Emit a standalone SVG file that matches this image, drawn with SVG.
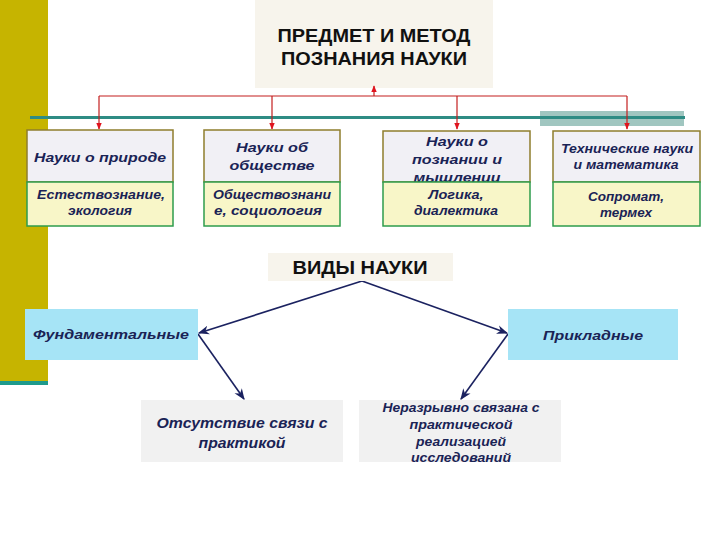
<svg xmlns="http://www.w3.org/2000/svg" width="720" height="540" viewBox="0 0 720 540">
<style>
.h{font-family:"Liberation Sans",Arial,sans-serif;font-weight:bold;fill:#111;text-anchor:middle}
.t{font-family:"Liberation Sans",Arial,sans-serif;font-weight:bold;font-style:italic;fill:#1a2355;text-anchor:middle}
.top{fill:#f1f0f5;stroke:#8f7d2c;stroke-width:1.5}
.bot{fill:#f8f6c8;stroke:#2e9c4c;stroke-width:1.5}
.cy{fill:#a6e4f6}
.gr{fill:#f1f1f1}
.red{stroke:#c41e1e;stroke-width:1.2;fill:none}
.nv{stroke:#1b2260;stroke-width:1.6;fill:none}
</style>
<defs>
<marker id="ra" viewBox="0 0 10 10" refX="9" refY="5" markerWidth="6" markerHeight="6" orient="auto"><path d="M0,1 L10,5 L0,9 z" fill="#e0141e"/></marker>
<marker id="na" viewBox="0 0 10 10" refX="9" refY="5" markerWidth="7" markerHeight="7" orient="auto"><path d="M0,1 L10,5 L0,9 L3,5 z" fill="#1b2260"/></marker>
</defs>
<rect x="0" y="0" width="720" height="540" fill="#fff"/>
<rect x="0" y="0" width="48" height="381" fill="#c6b400"/>
<rect x="0" y="381" width="48" height="4" fill="#1e9a8c"/>
<rect x="540" y="111" width="144" height="15" fill="#a0c6c0"/>
<rect x="30" y="116" width="655" height="3" fill="#2e8c84"/>

<g id="title"><rect x="255" y="0" width="238" height="88" fill="#f7f4ec"/>
<text class="h" x="374" y="42" font-size="19" textLength="193" lengthAdjust="spacingAndGlyphs">ПРЕДМЕТ И МЕТОД</text>
<text class="h" x="374" y="65" font-size="19" textLength="186" lengthAdjust="spacingAndGlyphs">ПОЗНАНИЯ НАУКИ</text></g>

<g id="connectors">
<path class="red" d="M374 96 L374 86" marker-end="url(#ra)"/>
<path class="red" d="M99 96 L627 96"/>
<path class="red" d="M99 96 L99 129" marker-end="url(#ra)"/>
<path class="red" d="M272 96 L272 129" marker-end="url(#ra)"/>
<path class="red" d="M457 96 L457 129" marker-end="url(#ra)"/>
<path class="red" d="M627 96 L627 129" marker-end="url(#ra)"/>
<path class="nv" d="M362 281 L199 333" marker-end="url(#na)"/>
<path class="nv" d="M362 281 L507 333" marker-end="url(#na)"/>
<path class="nv" d="M198 334 L244 399" marker-end="url(#na)"/>
<path class="nv" d="M508 334 L461 399" marker-end="url(#na)"/>
</g>

<g id="n1"><rect class="top" x="27" y="130" width="146" height="52"/>
<text class="t" x="100" y="162" font-size="13.5" textLength="132" lengthAdjust="spacingAndGlyphs">Науки о природе</text>
<rect class="bot" x="27" y="182" width="146" height="44"/>
<text class="t" x="101" y="199" font-size="12.5" textLength="128" lengthAdjust="spacingAndGlyphs">Естествознание,</text>
<text class="t" x="100" y="215" font-size="12.5" textLength="64" lengthAdjust="spacingAndGlyphs">экология</text></g>

<g id="n2"><rect class="top" x="204" y="130" width="136" height="52"/>
<text class="t" x="272" y="152" font-size="13.5" textLength="72" lengthAdjust="spacingAndGlyphs">Науки об</text>
<text class="t" x="272" y="170" font-size="13.5" textLength="85" lengthAdjust="spacingAndGlyphs">обществе</text>
<rect class="bot" x="204" y="182" width="136" height="44"/>
<text class="t" x="272" y="199" font-size="12.5" textLength="118" lengthAdjust="spacingAndGlyphs">Обществознани</text>
<text class="t" x="268" y="215" font-size="12.5" textLength="108" lengthAdjust="spacingAndGlyphs">е, социология</text></g>

<g id="n3"><rect class="top" x="383" y="131" width="147" height="51"/>
<text class="t" x="457" y="146" font-size="13.5" textLength="62" lengthAdjust="spacingAndGlyphs">Науки о</text>
<text class="t" x="457" y="164" font-size="13.5" textLength="90" lengthAdjust="spacingAndGlyphs">познании и</text>
<text class="t" x="457" y="182" font-size="13.5" textLength="87" lengthAdjust="spacingAndGlyphs">мышлении</text>
<rect class="bot" x="383" y="182" width="147" height="44"/>
<text class="t" x="456" y="199" font-size="12.5" textLength="55" lengthAdjust="spacingAndGlyphs">Логика,</text>
<text class="t" x="456" y="215" font-size="12.5" textLength="84" lengthAdjust="spacingAndGlyphs">диалектика</text></g>

<g id="n4"><rect class="top" x="553" y="131" width="147" height="51"/>
<text class="t" x="627" y="153" font-size="12.5" textLength="132" lengthAdjust="spacingAndGlyphs">Технические науки</text>
<text class="t" x="626" y="169" font-size="12.5" textLength="105" lengthAdjust="spacingAndGlyphs">и математика</text>
<rect class="bot" x="553" y="182" width="147" height="44"/>
<text class="t" x="626" y="201" font-size="12.5" textLength="76" lengthAdjust="spacingAndGlyphs">Сопромат,</text>
<text class="t" x="626" y="217" font-size="12.5" textLength="52" lengthAdjust="spacingAndGlyphs">термех</text></g>

<g id="vidy"><rect x="268" y="253" width="185" height="28" fill="#f7f4ec"/>
<text class="h" x="360" y="274" font-size="18" textLength="135" lengthAdjust="spacingAndGlyphs">ВИДЫ НАУКИ</text></g>

<g id="fund"><rect class="cy" x="25" y="309" width="173" height="51"/>
<text class="t" x="111" y="339" font-size="13.5" textLength="156" lengthAdjust="spacingAndGlyphs">Фундаментальные</text></g>

<g id="prikl"><rect class="cy" x="508" y="309" width="170" height="51"/>
<text class="t" x="593" y="340" font-size="13.5" textLength="100" lengthAdjust="spacingAndGlyphs">Прикладные</text></g>

<g id="b1"><rect class="gr" x="141" y="400" width="202" height="62"/>
<text class="t" x="242" y="428" font-size="15" textLength="171" lengthAdjust="spacingAndGlyphs">Отсутствие связи с</text>
<text class="t" x="242" y="448" font-size="15" textLength="87" lengthAdjust="spacingAndGlyphs">практикой</text></g>

<g id="b2"><rect class="gr" x="359" y="400" width="202" height="62"/>
<text class="t" x="461" y="412" font-size="12.5" textLength="157" lengthAdjust="spacingAndGlyphs">Неразрывно связана с</text>
<text class="t" x="461" y="429" font-size="12.5" textLength="103" lengthAdjust="spacingAndGlyphs">практической</text>
<text class="t" x="461" y="446" font-size="12.5" textLength="90" lengthAdjust="spacingAndGlyphs">реализацией</text>
<text class="t" x="461" y="462" font-size="12.5" textLength="100" lengthAdjust="spacingAndGlyphs">исследований</text></g>
</svg>
